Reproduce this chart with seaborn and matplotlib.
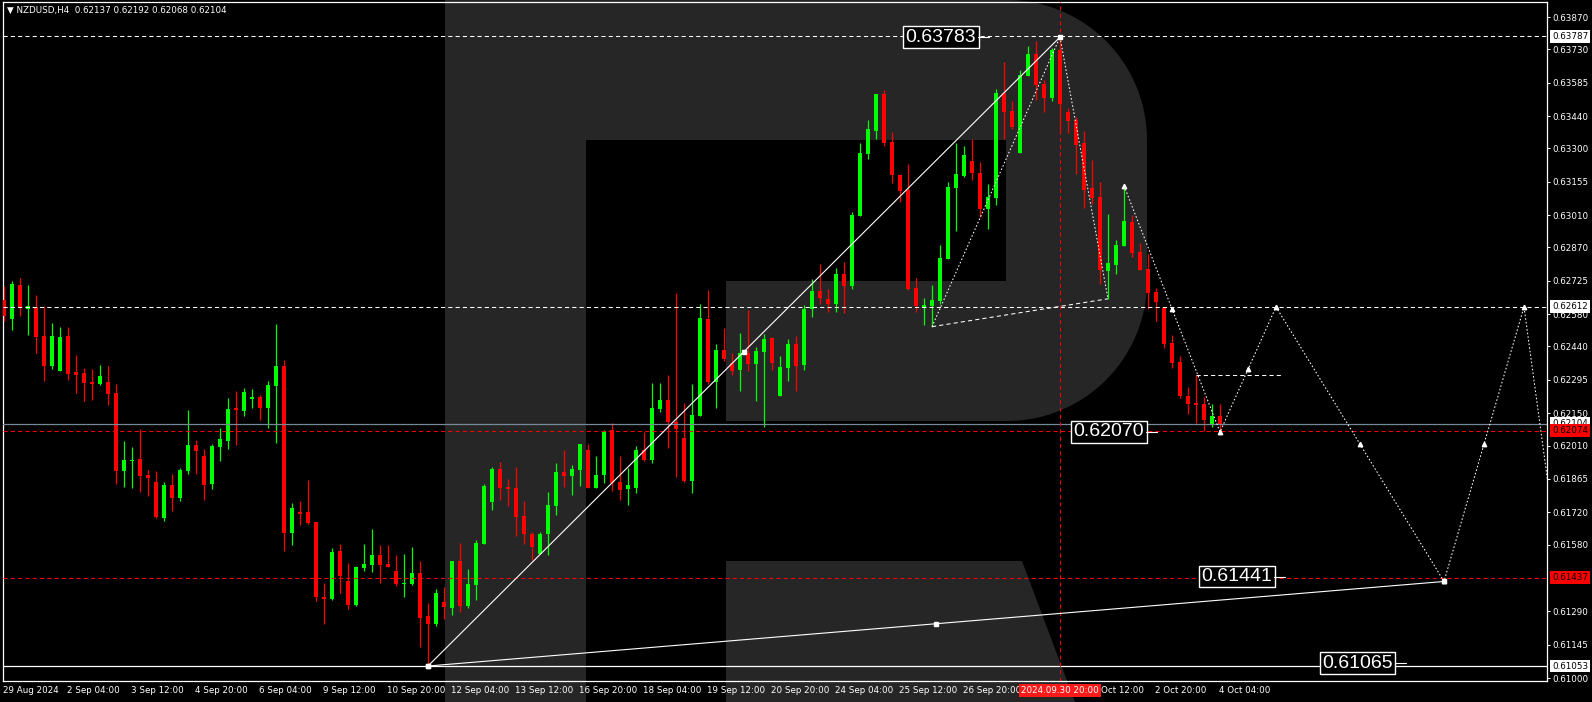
import numpy as np
import matplotlib
matplotlib.use("Agg")
import matplotlib.pyplot as plt
import matplotlib.transforms as mtransforms
from matplotlib.patches import Polygon, Rectangle
import seaborn as sns

# NZDUSD H4 candles, bar 0 = 29 Aug 20:00, bar 152 = 4 Oct 04:00
opens = [
    0.62641, 0.62559, 0.62706, 0.62604, 0.62610, 0.62485, 0.62355, 0.62333, 0.62485, 0.62329,
    0.62324, 0.62285, 0.62277, 0.62285, 0.62238, 0.61899, 0.61942, 0.61951, 0.61882, 0.61851,
    0.61695, 0.61838, 0.61782, 0.61899, 0.62012, 0.61964, 0.61843, 0.62003, 0.62029, 0.62173,
    0.62160, 0.62212, 0.62220, 0.62173, 0.62268, 0.62355, 0.61630, 0.61721, 0.61721, 0.61678,
    0.61352, 0.61343, 0.61552, 0.61422, 0.61317, 0.61478, 0.61491, 0.61534, 0.61495, 0.61465,
    0.61409, 0.61409, 0.61455, 0.61270, 0.61235, 0.61331, 0.61306, 0.61509, 0.61313, 0.61404,
    0.61582, 0.61765, 0.61908, 0.61830, 0.61826, 0.61704, 0.61626, 0.61539, 0.61626, 0.61747,
    0.61895, 0.61878, 0.61904, 0.61990, 0.61826, 0.61882, 0.62077, 0.61851, 0.61821, 0.61826,
    0.61990, 0.61947, 0.62168, 0.62208, 0.62112, 0.62042, 0.61856, 0.62138, 0.62559, 0.62286,
    0.62425, 0.62368, 0.62338, 0.62412, 0.62364, 0.62416, 0.62477, 0.62225, 0.62346, 0.62451,
    0.62359, 0.62602, 0.62681, 0.62646, 0.62626, 0.62754, 0.62704, 0.63008, 0.63277, 0.63377,
    0.63536, 0.63327, 0.63186, 0.63119, 0.62694, 0.62607, 0.62617, 0.62639, 0.62820, 0.63129,
    0.63181, 0.63245, 0.63193, 0.63038, 0.63086, 0.63540, 0.63462, 0.63281, 0.63615, 0.63709,
    0.63579, 0.63520, 0.63727, 0.63458, 0.63423, 0.63323, 0.63128, 0.63089, 0.62769, 0.62793,
    0.62876, 0.62980, 0.62851, 0.62778, 0.62678, 0.62608, 0.62455, 0.62374, 0.62226, 0.62193,
    0.62190, 0.62099, 0.62137,
]
highs = [
    0.62702, 0.62724, 0.62737, 0.62706, 0.62663, 0.62615, 0.62542, 0.62524, 0.62524, 0.62403,
    0.62346, 0.62342, 0.62359, 0.62355, 0.62277, 0.62029, 0.62003, 0.62081, 0.61903, 0.61899,
    0.61851, 0.61886, 0.61912, 0.62164, 0.62034, 0.61995, 0.62016, 0.62086, 0.62216, 0.62246,
    0.62259, 0.62255, 0.62229, 0.62290, 0.62537, 0.62381, 0.61760, 0.61769, 0.61860, 0.61678,
    0.61413, 0.61565, 0.61582, 0.61500, 0.61487, 0.61582, 0.61647, 0.61578, 0.61578, 0.61534,
    0.61539, 0.61569, 0.61509, 0.61325, 0.61387, 0.61397, 0.61509, 0.61587, 0.61474, 0.61600,
    0.61843, 0.61917, 0.61938, 0.61865, 0.61917, 0.61769, 0.61634, 0.61634, 0.61808, 0.61934,
    0.61990, 0.61925, 0.62017, 0.62017, 0.61964, 0.62077, 0.62108, 0.61964, 0.61912, 0.62008,
    0.62069, 0.62281, 0.62281, 0.62316, 0.62672, 0.62195, 0.62277, 0.62624, 0.62685, 0.62451,
    0.62520, 0.62412, 0.62498, 0.62598, 0.62438, 0.62494, 0.62481, 0.62398, 0.62472, 0.62485,
    0.62620, 0.62733, 0.62798, 0.62689, 0.62780, 0.62806, 0.63024, 0.63323, 0.63423, 0.63536,
    0.63553, 0.63371, 0.63189, 0.63232, 0.62737, 0.62650, 0.62707, 0.62880, 0.63154, 0.63323,
    0.63310, 0.63340, 0.63241, 0.63145, 0.63558, 0.63673, 0.63505, 0.63640, 0.63744, 0.63766,
    0.63597, 0.63735, 0.63783, 0.63475, 0.63436, 0.63375, 0.63249, 0.63154, 0.63015, 0.62902,
    0.63138, 0.63011, 0.62890, 0.62843, 0.62695, 0.62613, 0.62491, 0.62400, 0.62264, 0.62316,
    0.62219, 0.62190, 0.62192,
]
lows = [
    0.62550, 0.62511, 0.62572, 0.62489, 0.62411, 0.62290, 0.62342, 0.62333, 0.62294, 0.62238,
    0.62203, 0.62207, 0.62272, 0.62186, 0.61843, 0.61830, 0.61825, 0.61808, 0.61791, 0.61695,
    0.61682, 0.61725, 0.61769, 0.61886, 0.61886, 0.61773, 0.61821, 0.61942, 0.61995, 0.62012,
    0.62138, 0.62173, 0.62120, 0.62086, 0.62021, 0.61552, 0.61578, 0.61665, 0.61669, 0.61335,
    0.61235, 0.61339, 0.61370, 0.61300, 0.61313, 0.61465, 0.61461, 0.61413, 0.61482, 0.61400,
    0.61354, 0.61404, 0.61137, 0.61053, 0.61228, 0.61255, 0.61274, 0.61289, 0.61306, 0.61339,
    0.61582, 0.61730, 0.61773, 0.61747, 0.61617, 0.61582, 0.61513, 0.61539, 0.61535, 0.61708,
    0.61830, 0.61795, 0.61834, 0.61826, 0.61826, 0.61847, 0.61812, 0.61773, 0.61752, 0.61804,
    0.61943, 0.61934, 0.62155, 0.61999, 0.61873, 0.61851, 0.61804, 0.62138, 0.62277, 0.62173,
    0.62377, 0.62316, 0.62247, 0.62333, 0.62203, 0.62090, 0.62338, 0.62225, 0.62290, 0.62247,
    0.62340, 0.62569, 0.62624, 0.62589, 0.62589, 0.62585, 0.62691, 0.63008, 0.63255, 0.63340,
    0.63312, 0.63151, 0.63068, 0.62686, 0.62591, 0.62534, 0.62526, 0.62626, 0.62820, 0.62943,
    0.63177, 0.63162, 0.63003, 0.62951, 0.63054, 0.63340, 0.63384, 0.63281, 0.63615, 0.63511,
    0.63459, 0.63505, 0.63368, 0.63368, 0.63190, 0.63042, 0.63060, 0.62712, 0.62647, 0.62756,
    0.62876, 0.62830, 0.62773, 0.62604, 0.62550, 0.62432, 0.62348, 0.62218, 0.62148, 0.62109,
    0.62071, 0.62089, 0.62068,
]
closes = [
    0.62573, 0.62711, 0.62605, 0.62615, 0.62482, 0.62355, 0.62485, 0.62481, 0.62320, 0.62316,
    0.62281, 0.62277, 0.62311, 0.62233, 0.61899, 0.61947, 0.61947, 0.61877, 0.61869, 0.61699,
    0.61838, 0.61782, 0.61903, 0.62012, 0.61986, 0.61838, 0.62008, 0.62038, 0.62168, 0.62164,
    0.62242, 0.62220, 0.62173, 0.62272, 0.62355, 0.61630, 0.61738, 0.61712, 0.61673, 0.61352,
    0.61343, 0.61547, 0.61443, 0.61317, 0.61482, 0.61495, 0.61534, 0.61491, 0.61482, 0.61409,
    0.61415, 0.61455, 0.61263, 0.61235, 0.61368, 0.61310, 0.61509, 0.61313, 0.61409, 0.61587,
    0.61834, 0.61908, 0.61826, 0.61821, 0.61700, 0.61626, 0.61569, 0.61626, 0.61752, 0.61895,
    0.61878, 0.61908, 0.62017, 0.61826, 0.61882, 0.62073, 0.61847, 0.61817, 0.61838, 0.61990,
    0.61947, 0.62173, 0.62208, 0.62112, 0.62082, 0.61856, 0.62142, 0.62563, 0.62286, 0.62425,
    0.62386, 0.62333, 0.62412, 0.62364, 0.62420, 0.62472, 0.62368, 0.62351, 0.62451, 0.62355,
    0.62602, 0.62681, 0.62652, 0.62626, 0.62754, 0.62704, 0.63011, 0.63280, 0.63384, 0.63536,
    0.63325, 0.63186, 0.63116, 0.62691, 0.62617, 0.62620, 0.62642, 0.62824, 0.63132, 0.63189,
    0.63272, 0.63194, 0.63038, 0.63089, 0.63540, 0.63459, 0.63393, 0.63618, 0.63709, 0.63576,
    0.63520, 0.63727, 0.63494, 0.63420, 0.63316, 0.63120, 0.63086, 0.62773, 0.62802, 0.62880,
    0.62985, 0.62847, 0.62773, 0.62673, 0.62634, 0.62452, 0.62370, 0.62226, 0.62192, 0.62187,
    0.62121, 0.62139, 0.62104,
]

# time axis: label under each 8th bar ("30 Sep 04:00" sits under the crosshair tag)
xtick_bars = [0, 8, 16, 24, 32, 40, 48, 56, 64, 72, 80, 88, 96, 104, 112, 120, 136, 144, 152]
xtick_labels = ["29 Aug 2024", "2 Sep 04:00", "3 Sep 12:00", "4 Sep 20:00", "6 Sep 04:00",
                "9 Sep 12:00", "10 Sep 20:00", "12 Sep 04:00", "13 Sep 12:00", "16 Sep 20:00",
                "18 Sep 04:00", "19 Sep 12:00", "20 Sep 20:00", "24 Sep 04:00", "25 Sep 12:00",
                "26 Sep 20:00", "Oct 12:00", "2 Oct 20:00", "4 Oct 04:00"]
ytick_prices = [0.63870, 0.63730, 0.63585, 0.63440, 0.63300, 0.63155, 0.63010, 0.62870,
                0.62725, 0.62580, 0.62440, 0.62295, 0.62150, 0.62010, 0.61865, 0.61720,
                0.61580, 0.61290, 0.61145, 0.61000]

# horizontal levels
level_high = 0.63787
level_mid = 0.62612
bid_price = 0.62104
level_red1 = 0.62074
level_red2 = 0.61437
level_low = 0.61053

# trend lines (bar, price)
trend_up = ([53, 132], [0.61053, 0.63783])
trend_flat = ([53, 180], [0.61053, 0.61420])
triangle_bars = [116, 132, 138]
triangle_prices = [0.62526, 0.63783, 0.62647]
# forecast zigzag
zigzag_bars = [140, 152, 159, 180, 190, 193]
zigzag_prices = [0.63138, 0.62069, 0.62612, 0.61420, 0.62612, 0.61845]
shelf_bars = [149, 159.75]
shelf_price = 0.62316

# boxed labels (left bar, price, text)
boxes = [(112.7, 0.63783, "0.63783"), (133.7, 0.62070, "0.62070"),
         (149.7, 0.61441, "0.61441"), (164.8, 0.61065, "0.61065")]

sns.set_theme(style="dark", rc={"axes.facecolor": "black", "figure.facecolor": "black",
                                "axes.grid": False})
plt.rcParams['font.family'] = ['DejaVu Sans']

W, H = 1592, 702
fig = plt.figure(figsize=(W / 100, H / 100), dpi=100)
fig.patch.set_facecolor("black")

# watermark "R" drawn in pixel space
bg = fig.add_axes([0, 0, 1, 1], zorder=0)
bg.set_xlim(0, W)
bg.set_ylim(H, 0)
bg.axis("off")
wm = "#262626"


def arc(cx, cy, r, a0, a1, n=40):
    t = np.radians(np.linspace(a0, a1, n))
    return np.column_stack([cx + r * np.cos(t), cy + r * np.sin(t)])


bowl = np.vstack([[[586, 0]], arc(1007, 140, 140, -90, 0), arc(1007, 281, 140, 0, 90),
                  [[726, 421], [726, 281], [1006, 281], [1006, 140], [586, 140]]])
bg.add_patch(Rectangle((445, 0), 141, H, color=wm, lw=0))
bg.add_patch(Polygon(bowl, closed=True, color=wm, lw=0))
bg.add_patch(Polygon([[726, 561], [1022, 561], [1075, H], [726, H]], closed=True, color=wm, lw=0))

# main chart
px_l, px_r, px_t, px_b = 2.7, 1547.0, 2.3, 681.0
ax = fig.add_axes([px_l / W, 1 - px_b / H, (px_r - px_l) / W, (px_b - px_t) / H], zorder=1)
ax.patch.set_alpha(0)
ax.set_xlim(-0.16, 192.875)
ax.set_ylim(0.60988, 0.63934)

o = np.array(opens)
c = np.array(closes)
x = np.arange(len(o))
up = c >= o
cols = np.where(up, "#00ff00", "#ff0000")
ax.vlines(x, lows, highs, colors=cols, lw=0.9, zorder=3)
ax.bar(x, np.maximum(np.abs(c - o), 0.00003), bottom=np.minimum(o, c), width=0.62,
       color=cols, lw=0, zorder=3)

# horizontal levels
ax.axhline(level_high, color="white", lw=0.75, ls=(0, (4, 3)), zorder=4)
ax.axhline(level_mid, color="white", lw=0.75, ls=(0, (4, 3)), zorder=4)
ax.axhline(bid_price, color="#778899", lw=0.9, zorder=4)
ax.axhline(level_red1, color="#ff0000", lw=0.75, ls=(0, (4, 3)), zorder=4)
ax.axhline(level_red2, color="#ff0000", lw=0.75, ls=(0, (4, 3)), zorder=4)
ax.axhline(level_low, color="white", lw=0.9, zorder=4)
ax.axvline(132, color="#ff0000", lw=0.75, ls=(0, (4, 3)), zorder=4)

# trend lines with anchor squares
for bx, py in (trend_up, trend_flat):
    ax.plot(bx, py, color="white", lw=0.8, zorder=5)
    ax.plot([bx[0], (bx[0] + bx[1]) / 2, bx[1]], [py[0], (py[0] + py[1]) / 2, py[1]],
            ls="none", marker="s", ms=3.2, color="white", zorder=6)

dot = (0, (1.5, 2))
ax.plot([triangle_bars[0], triangle_bars[1]], [triangle_prices[0], triangle_prices[1]],
        color="white", lw=0.75, ls=dot, zorder=5)
ax.plot([triangle_bars[1], triangle_bars[2]], [triangle_prices[1], triangle_prices[2]],
        color="white", lw=0.75, ls=dot, zorder=5)
ax.plot([triangle_bars[0], triangle_bars[2]], [triangle_prices[0], triangle_prices[2]],
        color="white", lw=0.75, ls=(0, (4, 3)), zorder=5)

sns.lineplot(x=zigzag_bars, y=zigzag_prices, ax=ax, color="white", lw=0.75, sort=False,
             estimator=None, linestyle=dot, zorder=5)
zb = np.array(zigzag_bars[:5], dtype=float)
zp = np.array(zigzag_prices[:5])
mk_x = np.concatenate([zb, (zb[:-1] + zb[1:]) / 2])
mk_y = np.concatenate([zp, (zp[:-1] + zp[1:]) / 2])
ax.plot(mk_x, mk_y, ls="none", marker="^", ms=3.2, color="white", zorder=6)
ax.plot(shelf_bars, [shelf_price, shelf_price], color="white", lw=0.75, ls=(0, (4, 3)), zorder=5)

big_font = dict(family=["Liberation Sans", "DejaVu Sans"], size=14)
for bx, py, txt in boxes:
    ax.text(bx, py, txt, ha="left", va="center", color="white", zorder=7,
            bbox=dict(boxstyle="square,pad=0.12", fc="black", ec="white", lw=1), **big_font)
    ax.plot([bx + 9.1, bx + 10.4], [py, py], color="white", lw=0.8, zorder=7)

# axes styling
for s in ax.spines.values():
    s.set_color("white")
    s.set_linewidth(0.9)
ax.yaxis.tick_right()
ax.set_yticks(ytick_prices)
ax.set_yticklabels([f"{p:.5f}" for p in ytick_prices])
ax.set_xticks(xtick_bars)
ax.set_xticklabels(xtick_labels)
ax.tick_params(axis="both", colors="white", labelcolor="white", labelsize=6.3,
               length=2.3, width=0.7, direction="out")
ax.tick_params(axis="x", pad=1.5)
ax.tick_params(axis="y", pad=1.5)
for bar_i, lbl in zip(xtick_bars, ax.get_xticklabels()):
    lbl.set_ha("left")
    shift = 9 if bar_i == 136 else -1   # "1 " of "1 Oct 12:00" is hidden by the tag
    lbl.set_transform(lbl.get_transform() +
                      mtransforms.ScaledTranslation(shift / 100, 0, fig.dpi_scale_trans))

# price tags on the right axis
yt = mtransforms.blended_transform_factory(ax.transAxes, ax.transData)
ax_x_tag = (1552 - px_l) / (px_r - px_l)
tags = [(level_high, "white"), (level_mid, "white"), (bid_price, "white"),
        (level_red1, "#ff0000"), (level_red2, "#ff0000"), (level_low, "white")]
for py, fc in tags:
    ax.text(ax_x_tag, py, f"{py:.5f}", transform=yt, ha="left", va="center", fontsize=6.3,
            color="black", clip_on=False, zorder=8,
            bbox=dict(boxstyle="square,pad=0.22", fc=fc, ec="none"))

# crosshair time tag
xt = mtransforms.blended_transform_factory(ax.transData, ax.transAxes)
ax.text(132, -(690.5 - px_b) / (px_b - px_t), "2024.09.30 20:00", transform=xt, ha="center",
        va="center", fontsize=6.3, color="white", clip_on=False, zorder=8,
        bbox=dict(boxstyle="square,pad=0.25", fc="#ff1a1a", ec="none"))

# header
ax.text((7 - px_l) / (px_r - px_l), (px_b - 10) / (px_b - px_t),
        "\u25bc NZDUSD,H4  0.62137 0.62192 0.62068 0.62104", transform=ax.transAxes,
        ha="left", va="center", fontsize=6.3, color="white", zorder=8)

fig.savefig("out.png", dpi=100, facecolor="black")
